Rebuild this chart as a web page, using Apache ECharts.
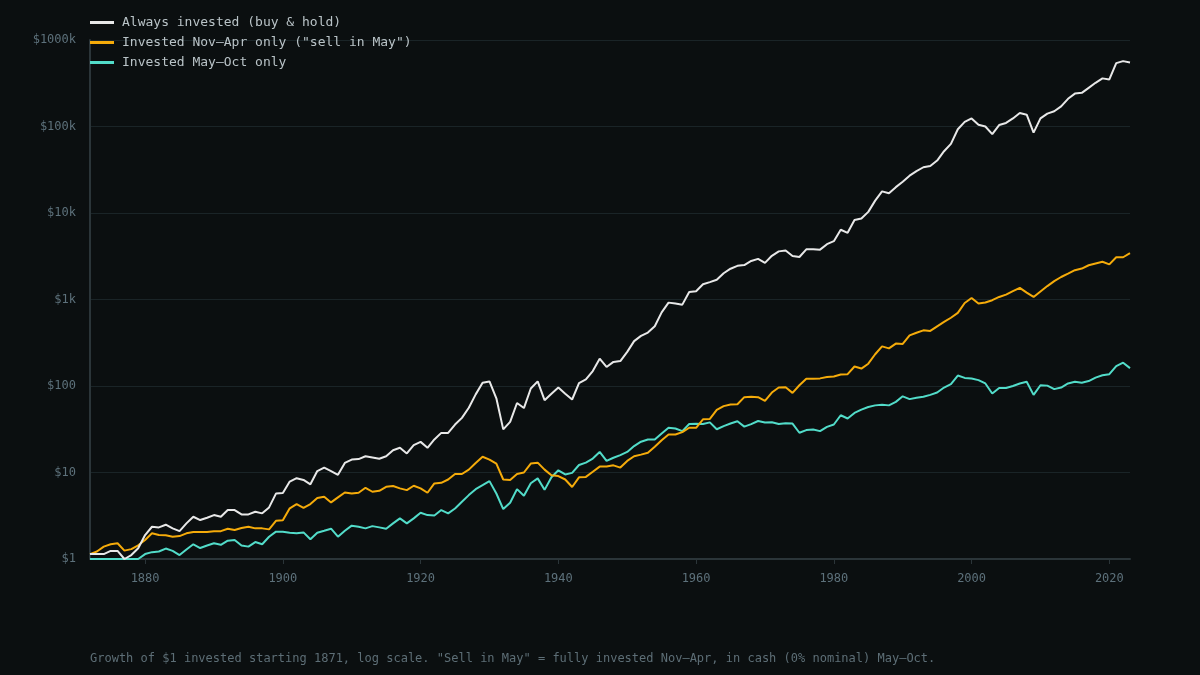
<!DOCTYPE html>
<html>
<head>
<meta charset="utf-8">
<script src="https://cdn.jsdelivr.net/npm/echarts@6/dist/echarts.min.js"></script>
<style>
  html, body { margin: 0; padding: 0; background: #0b0f10; }
  #chart { width: 1200px; height: 675px; }
</style>
</head>
<body>
<div id="chart"></div>
<script>
// years 1872..2023, one point per year
const firstYear = 1872;

const buyHold = [
  1.14, 1.14, 1.14, 1.24, 1.24, 1.0, 1.11, 1.33,
  1.89, 2.36, 2.32, 2.49, 2.26, 2.10, 2.58, 3.08, 2.82, 3.0,
  3.22, 3.08, 3.68, 3.68, 3.28, 3.28, 3.52, 3.37, 3.95, 5.7,
  5.8, 7.85, 8.6, 8.2, 7.3, 10.4, 11.4, 10.4, 9.4, 12.9,
  14.1, 14.3, 15.4, 14.9, 14.4, 15.4, 18.1, 19.3, 16.6, 20.7,
  22.6, 19.3, 24.1, 28.7, 28.7, 35.8, 42.8, 56, 80, 109,
  113, 72, 31.5, 38.5, 63.6, 55.6, 93.5, 113, 68.5, 81.5,
  95.8, 81.5, 69.8, 108, 119, 149, 207, 166, 190, 194,
  248, 330, 380, 415, 490, 710, 920, 897, 872, 1222,
  1245, 1500, 1590, 1690, 2010, 2270, 2450, 2500, 2790, 2950,
  2650, 3200, 3600, 3680, 3180, 3100, 3800, 3800, 3770, 4360,
  4720, 6400, 5900, 8300, 8660, 10300, 13900, 17800, 16900, 19900,
  23000, 27000, 30500, 33800, 34900, 40400, 51800, 63000, 93000, 113000,
  124000, 105000, 100000, 81700, 104000, 110000, 124000, 143000, 137000, 85000,
  124000, 141000, 150000, 171000, 209000, 240000, 245000, 280000, 320000, 360000,
  350000, 540000, 570000, 550000
];

const novApr = [
  1.14, 1.22, 1.39, 1.48, 1.52, 1.25, 1.30, 1.44,
  1.66, 1.98, 1.89, 1.88, 1.81, 1.84, 1.98, 2.05, 2.05, 2.05,
  2.09, 2.10, 2.24, 2.16, 2.28, 2.36, 2.26, 2.26, 2.20, 2.76,
  2.8, 3.85, 4.3, 3.91, 4.32, 5.06, 5.25, 4.51, 5.15, 5.88,
  5.72, 5.83, 6.66, 5.99, 6.15, 6.84, 6.97, 6.55, 6.26, 7.03,
  6.55, 5.83, 7.47, 7.6, 8.3, 9.6, 9.6, 10.8, 12.9, 15.2,
  14.1, 12.7, 8.3, 8.2, 9.6, 10.0, 12.7, 13.0, 10.8, 9.3,
  9.1, 8.3, 6.8, 8.8, 8.9, 10.2, 11.7, 11.7, 12.1, 11.4,
  13.6, 15.4, 16.1, 16.9, 19.8, 23.6, 27.5, 27.5, 29.3, 32.9,
  32.9, 41.2, 41.6, 53, 58.5, 61.1, 61.6, 74.3, 74.9, 74.3,
  67.4, 84, 96, 96.7, 83.3, 101.9, 121.5, 121.5, 122.5, 127,
  129, 136, 137, 168, 159, 181, 233, 287, 272, 309,
  306, 385, 412, 440, 433, 490, 550, 615, 700, 910,
  1040, 897, 922, 982, 1070, 1140, 1250, 1360, 1200, 1070,
  1240, 1430, 1630, 1820, 1990, 2180, 2280, 2490, 2610, 2730,
  2550, 3080, 3080, 3430
];

const mayOct = [
  1, 1, 1, 1, 1, 1, 1, 1,
  1.14, 1.20, 1.22, 1.32, 1.24, 1.11, 1.29, 1.48, 1.34, 1.43,
  1.52, 1.46, 1.63, 1.66, 1.43, 1.39, 1.57, 1.48, 1.81, 2.07,
  2.06, 2.01, 1.98, 2.03, 1.69, 2.01, 2.12, 2.24, 1.81, 2.12,
  2.43, 2.36, 2.26, 2.4, 2.32, 2.24, 2.58, 2.95, 2.58, 2.95,
  3.43, 3.22, 3.19, 3.68, 3.37, 3.84, 4.59, 5.48, 6.42, 7.14,
  7.95, 5.72, 3.78, 4.47, 6.42, 5.38, 7.5, 8.55, 6.3, 8.8,
  10.6, 9.5, 9.9, 12.2, 13.0, 14.5, 17.3, 13.6, 14.8, 15.9,
  17.3, 20.2, 22.7, 24.1, 24.1, 28.3, 32.9, 32.3, 30.1, 36.3,
  36.6, 36.3, 38, 31.6, 34.4, 36.8, 39.1, 33.9, 36.3, 39.4,
  37.8, 38.1, 36.3, 37.2, 36.8, 28.8, 30.9, 31.4, 30.1, 33.7,
  35.9, 45.9, 42.1, 48.8, 53.3, 57.2, 59.7, 60.7, 59.7, 65.5,
  76, 70.5, 73, 75, 79, 84, 96, 105, 132, 124,
  122, 117, 107, 82, 95, 95, 100, 107, 112, 79,
  102, 101, 92, 96, 107, 112, 109, 114, 125, 133,
  137, 170, 186, 161
];

const yearTicks = [1880, 1900, 1920, 1940, 1960, 1980, 2000, 2020];

const mono = 'DejaVu Sans Mono';

function toPairs(arr) {
    return arr.map(function (v, i) { return [firstYear + i, v]; });
}

let chart = echarts.init(document.getElementById('chart'));

let option = {
    backgroundColor: '#0b0f10',
    animation: false,
    grid: {
        left: 90,
        right: 70,
        top: 40,
        bottom: 116
    },
    legend: {
        orient: 'vertical',
        left: 90,
        top: 16,
        padding: 0,
        itemWidth: 24,
        itemHeight: 3,
        itemGap: 7,
        icon: 'rect',
        textStyle: {
            color: '#b9c3c7',
            fontFamily: mono,
            fontSize: 13,
            padding: [0, 0, 0, 3]
        },
        data: [
            'Always invested (buy & hold)',
            'Invested Nov\u2013Apr only ("sell in May")',
            'Invested May\u2013Oct only'
        ]
    },
    xAxis: {
        type: 'value',
        min: 1872,
        max: 2023,
        axisLine: { show: true, lineStyle: { color: '#2b3539', width: 2 } },
        axisTick: {
            show: true,
            customValues: yearTicks,
            length: 5,
            lineStyle: { color: '#2b3539' }
        },
        axisLabel: {
            customValues: yearTicks,
            color: '#5d717b',
            fontFamily: mono,
            fontSize: 12,
            margin: 14,
            formatter: function (v) { return String(v); }
        },
        splitLine: { show: false }
    },
    yAxis: {
        type: 'log',
        logBase: 10,
        min: 1,
        max: 1000000,
        axisLine: { show: true, lineStyle: { color: '#2b3539', width: 2 } },
        axisTick: { show: false },
        axisLabel: {
            color: '#5d717b',
            fontFamily: mono,
            fontSize: 12,
            margin: 14,
            formatter: function (v) {
                if (v >= 1000) return '$' + Math.round(v / 1000) + 'k';
                return '$' + Math.round(v);
            }
        },
        splitLine: { show: true, lineStyle: { color: '#1a2427', width: 1 } }
    },
    graphic: [{
        type: 'text',
        left: 90,
        top: 653,
        style: {
            text: 'Growth of $1 invested starting 1871, log scale. "Sell in May" = fully invested Nov\u2013Apr, in cash (0% nominal) May\u2013Oct.',
            fill: '#5d6e76',
            font: '12px "DejaVu Sans Mono"'
        }
    }],
    series: [{
        name: 'Always invested (buy & hold)',
        type: 'line',
        symbol: 'none',
        data: toPairs(buyHold),
        lineStyle: { color: '#e8e8e8', width: 2 },
        itemStyle: { color: '#e8e8e8' },
        z: 3
    }, {
        name: 'Invested Nov\u2013Apr only ("sell in May")',
        type: 'line',
        symbol: 'none',
        data: toPairs(novApr),
        lineStyle: { color: '#f5ab0a', width: 2 },
        itemStyle: { color: '#f5ab0a' },
        z: 2
    }, {
        name: 'Invested May\u2013Oct only',
        type: 'line',
        symbol: 'none',
        data: toPairs(mayOct),
        lineStyle: { color: '#52dcc9', width: 2 },
        itemStyle: { color: '#52dcc9' },
        z: 1
    }]
};

chart.setOption(option);
</script>
</body>
</html>
